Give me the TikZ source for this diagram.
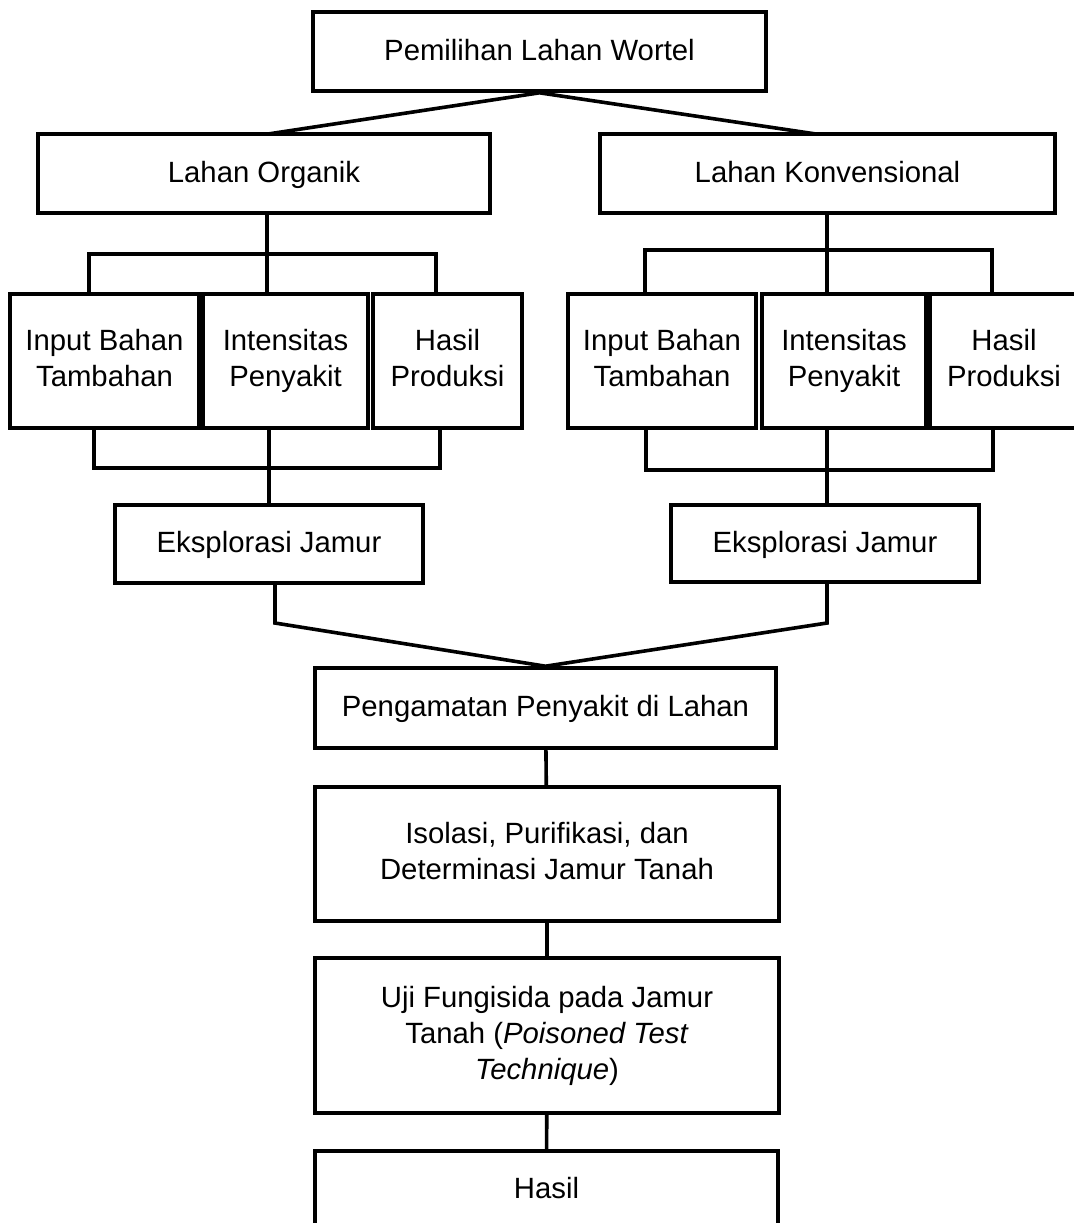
\documentclass[tikz,border=0pt]{standalone}
\usepackage{fontspec}
\setmainfont{Liberation Sans}
\usepackage{tikz}
\tikzset{>=stealth}
\newcommand{\tegak}{\rule[-3pt]{0pt}{15pt}}
\tikzset{kotak/.style={draw, line width=1.8pt, inner sep=0pt, align=center, font=\fontsize{14.65}{18}\selectfont,
		execute at begin node=\tegak, execute at end node=\tegak},
	garis/.style={line width=1.8pt}}

\begin{document}
\begin{tikzpicture}[x=0.5pt, y=-0.5pt]

	\useasboundingbox (0,0) rectangle (1074,1223);
	\clip (0,0) rectangle (1074,1223);

	\node [kotak, minimum width=226.5pt, minimum height=39.5pt] (pilih) at (539.5,51.5) {Pemilihan Lahan Wortel};
	\node [kotak, minimum width=226pt, minimum height=39.5pt] (organik) at (264,173.5) {Lahan Organik};
	\node [kotak, minimum width=227.5pt, minimum height=39.5pt] (konven) at (827.5,173.5) {Lahan Konvensional};

	% lahan organik
	\node [kotak, minimum width=94.5pt, minimum height=67pt] (oInput) at (104.5,361) {Input Bahan\\Tambahan};
	\node [kotak, minimum width=82.5pt, minimum height=67pt] (oIntens) at (285.5,361) {Intensitas\\Penyakit};
	\node [kotak, minimum width=74.5pt, minimum height=67pt] (oHasil) at (447.5,361) {Hasil\\Produksi};
	\node [kotak, minimum width=154pt, minimum height=39pt] (oEksplor) at (269,544) {Eksplorasi Jamur};

	% lahan konvensional
	\node [kotak, minimum width=94pt, minimum height=67pt] (kInput) at (662,361) {Input Bahan\\Tambahan};
	\node [kotak, minimum width=82pt, minimum height=67pt] (kIntens) at (844,361) {Intensitas\\Penyakit};
	\node [kotak, minimum width=74pt, minimum height=67pt] (kHasil) at (1004,361) {Hasil\\Produksi};
	\node [kotak, minimum width=154pt, minimum height=38.5pt] (kEksplor) at (825,543.5) {Eksplorasi Jamur};

	\node [kotak, minimum width=230.5pt, minimum height=40pt] (amat) at (545.5,708) {Pengamatan Penyakit di Lahan};
	\node [kotak, minimum width=232pt, minimum height=67pt] (isolasi) at (547,854) {Isolasi, Purifikasi, dan\\Determinasi Jamur Tanah};
	\node [kotak, minimum width=232pt, minimum height=77.5pt] (uji) at (547,1035.5) {Uji Fungisida pada Jamur\\Tanah (\textit{Poisoned Test}\\\textit{Technique})};
	\node [kotak, minimum width=231.5pt, minimum height=38.5pt] (hasil) at (546.5,1189.5) {Hasil};

	% percabangan atas
	\coordinate (oTop) at (268,134);
	\coordinate (kTop) at (816,134);
	\draw [garis] (oTop) -- (pilih.south) -- (kTop);

	\coordinate (oBrL) at (89,254);
	\coordinate (oBrM) at (267,254);
	\coordinate (oBrR) at (436,254);
	\draw [garis] (organik.south -| oBrM) -- (oIntens.north -| oBrM);
	\draw [garis] (oInput.north -| oBrL) -- (oBrL) -- (oBrR) -- (oHasil.north -| oBrR);

	\coordinate (kBrL) at (645,250);
	\coordinate (kBrM) at (827,250);
	\coordinate (kBrR) at (992,250);
	\draw [garis] (konven.south -| kBrM) -- (kIntens.north -| kBrM);
	\draw [garis] (kInput.north -| kBrL) -- (kBrL) -- (kBrR) -- (kHasil.north -| kBrR);

	% percabangan bawah
	\coordinate (oBwL) at (94,468);
	\coordinate (oBwM) at (269,468);
	\coordinate (oBwR) at (440,468);
	\draw [garis] (oIntens.south -| oBwM) -- (oEksplor.north -| oBwM);
	\draw [garis] (oInput.south -| oBwL) -- (oBwL) -- (oBwR) -- (oHasil.south -| oBwR);

	\coordinate (kBwL) at (646,470);
	\coordinate (kBwM) at (827,470);
	\coordinate (kBwR) at (993,470);
	\draw [garis] (kIntens.south -| kBwM) -- (kEksplor.north -| kBwM);
	\draw [garis] (kInput.south -| kBwL) -- (kBwL) -- (kBwR) -- (kHasil.south -| kBwR);

	% gabung ke pengamatan
	\coordinate (oTek) at (275,623);
	\coordinate (kTek) at (827,623);
	\draw [garis] (oEksplor.south -| oTek) -- (oTek) -- (amat.north) -- (kTek) -- (kEksplor.south -| kTek);

	\draw [garis] (amat) -- (isolasi);
	\draw [garis] (isolasi) -- (uji);
	\draw [garis] (uji) -- (hasil);

\end{tikzpicture}
\end{document}
